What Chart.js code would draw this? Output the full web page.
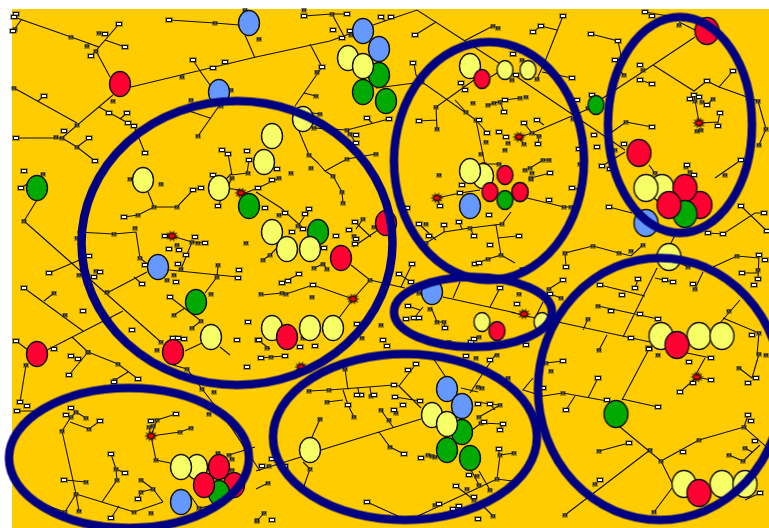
<!DOCTYPE html>
<html><head><meta charset="utf-8">
<script src="https://cdn.jsdelivr.net/npm/chart.js@4"></script>
<style>html,body{margin:0;padding:0;background:#fff;overflow:hidden}canvas{display:block}</style>
</head><body><canvas id="c" width="769" height="528"></canvas>
<script>
// Community rings
const ringX=[237,489,680,473,660,405,129];
const ringY=[243,161,125,312,389,437,458];
const ringRX=[155.5,95,72,79,122,132,120];
const ringRY=[142,119,108,35,131,83,70];
// Large nodes in drawing order (later on top)
const nodeX=[249,219,120,379,363,348,379,363,363,386,303,272,264,470,482,505,528,596,707,639,
 483,470,505,37,143,219,249,158,196,211,37,173,272,287,318,310,341,386,272,310,333,287,470,520,490,505,432,482,497,520,542,
 662,646,700,685,685,669,646,669,661,699,722,677,616,684,722,745,699,197,181,234,219,219,204,181,447,462,432,462,447,470,447,310];
const nodeY=[23,92,84,49,31,58,75,66,92,101,119,136,162,66,79,70,70,105,31,153,
 176,171,175,188,180,188,206,267,302,337,354,352,232,249,232,249,258,223,328,328,328,337,206,192,192,200,292,322,331,192,322,
 188,188,205,188,214,205,223,257,336,336,336,345,414,484,484,484,493,467,467,485,467,493,485,502,389,406,415,432,424,458,450,450];
const nodeKind=['b','b','r','b','b','y','g','y','g','g','y','y','y','y','r','y','y','g','r','r',
 'y','y','r','g','y','y','g','b','g','y','r','r','y','y','g','y','r','r','y','y','y','r','b','r','r','g','b','y','r','r','y',
 'y','y','r','r','g','r','b','y','y','y','y','r','g','y','y','y','r','y','y','r','r','g','r','b','b','b','y','g','y','g','g','y'];
const nodeSize=['m','m','m','m','m','m','m','m','m','m','m','m','m','m','s','s','s','s','l','l',
 'm','m','s','m','m','m','m','m','m','m','m','m','m','m','m','m','m','m','m','m','m','m','m','s','s','s','m','s','s','s','s',
 'l','l','l','l','l','l','l','l','l','l','l','l','l','l','l','l','l','m','m','m','m','m','m','m','m','m','m','m','m','m','m','m'];
// Red starred hubs
const hubX=[172,241,353,437,301,151,697,699,519,524];
const hubY=[236,193,299,198,367,436,377,123,137,314];
// Small light nodes
const lightX=[16,14,13,169,119,105,125,91,44,64,16,89,95,109,127,128,134,145,213,225,193,222,228,247,249,24,213,
 21,49,24,16,142,170,89,83,132,124,193,201,165,195,205,169,179,186,178,94,100,176,145,238,239,237,54,173,178,184,218,258,248,
 304,347,381,391,333,350,342,415,413,322,367,389,356,356,461,465,419,479,487,499,504,505,513,277,272,506,
 563,541,533,591,618,645,652,615,640,640,652,733,707,694,690,699,707,720,718,577,592,537,524,594,597,538,579,624,602,610,652,550,741,687,694,572,516,
 419,429,407,444,459,474,489,490,475,479,460,462,440,355,349,336,356,355,324,309,305,292,303,265,285,258,299,288,313,282,411,399,412,408,406,414,419,445,500,471,474,383,387,315,357,300,259,
 572,549,519,609,741,764,767,723,708,566,563,638,635,622,600,759,765,742,758,754,693,611,640,658,665,673,550,517,752,631,649,526,
 71,78,69,114,138,20,27,17,71,66,100,176,151,111,125,64,138,111,247,
 261,285,394,408,416,348,361,357,374,395,420,403,394,478,490,503,500,484,404,421,478,469,499,474,456,459,453,439,367,272,490,466,262,285,272,
 563,598,543,566,607,658,629,683,755,760,711,693,680,649,711,689,748,756,748,751,600];
const lightY=[14,17,31,20,24,34,47,56,96,131,138,138,161,113,113,123,126,153,68,62,60,150,154,151,160,171,175,
 188,273,288,341,284,297,256,311,330,217,190,188,236,237,243,249,250,255,264,277,272,282,265,278,270,340,349,338,338,339,206,340,322,
 16,14,17,17,30,31,38,35,63,67,118,119,135,143,83,90,121,120,133,132,112,100,54,169,180,137,
 16,26,32,34,41,12,16,60,65,80,84,71,81,95,99,97,105,113,126,100,95,120,123,135,147,144,149,144,166,169,127,173,160,165,175,78,75,
 224,236,208,225,222,236,215,245,264,263,193,185,206,222,230,236,239,244,248,209,214,232,229,208,213,188,274,281,285,283,282,274,264,306,319,318,318,328,288,342,339,340,346,346,324,347,340,
 188,200,236,207,206,213,231,234,233,267,280,279,288,295,285,255,260,273,279,285,284,311,314,319,280,282,294,304,335,338,348,345,
 356,359,375,382,379,402,406,411,408,415,421,414,421,454,473,480,499,518,367,
 358,356,385,370,364,405,395,395,395,397,401,405,410,404,404,424,430,422,454,458,519,475,449,497,486,506,509,504,502,520,360,356,466,466,459,
 361,378,388,410,400,407,443,452,441,493,380,383,392,349,358,362,383,378,415,421,480];
// Small dark nodes
const darkX=[15,71,99,87,96,215,182,14,113,77,56,62,77,191,221,198,231,245,259,248,43,130,232,
 24,138,154,177,114,135,140,77,79,96,107,54,65,109,174,167,177,192,198,218,217,211,201,174,192,181,246,88,157,161,161,
 304,332,351,317,316,320,314,347,350,309,311,347,376,333,291,279,493,498,436,466,473,437,488,494,500,486,481,484,499,505,508,439,422,512,476,
 522,513,537,520,526,624,643,679,713,702,695,701,697,626,532,539,524,758,766,759,655,725,543,549,530,525,532,531,573,588,615,580,686,690,
 342,343,363,374,354,263,270,314,323,327,370,261,282,286,312,381,362,426,426,470,502,501,488,430,437,444,419,449,479,267,303,298,279,
 531,564,571,565,593,619,631,643,737,758,695,688,588,598,599,729,549,561,519,759,522,
 26,88,118,115,187,202,214,209,76,71,86,89,62,157,149,153,180,191,156,116,117,86,76,141,153,141,65,79,134,151,199,218,229,232,232,257,
 271,476,497,508,345,309,329,371,327,354,381,389,396,390,320,310,268,264,257,493,478,482,500,479,481,428,432,435,477,490,479,497,500,514,467,474,435,458,269,
 551,546,563,599,650,661,699,744,745,743,729,595,565,654,658,739,759,766];
const darkY=[29,37,33,46,51,23,77,88,101,125,137,138,147,100,106,136,90,10,39,173,174,179,178,
 221,215,207,207,234,228,258,238,275,271,292,293,315,319,275,280,245,242,243,265,277,294,321,315,328,269,243,352,350,342,184,
 10,14,35,72,96,114,128,130,134,155,168,159,154,176,173,178,26,28,107,112,103,129,105,103,102,142,154,164,164,150,143,175,82,80,120,
 60,54,79,98,97,75,70,25,99,102,101,130,131,122,133,136,144,101,129,145,173,175,160,160,168,170,173,178,119,108,150,164,167,172,
 192,203,219,227,236,260,255,268,264,269,280,294,293,294,297,325,338,243,224,228,224,255,259,309,322,322,293,342,337,348,338,226,215,
 179,207,207,253,246,253,251,245,256,270,289,267,319,306,350,311,289,298,294,333,269,
 365,352,364,380,369,389,392,414,412,417,418,429,431,420,427,426,432,428,460,469,480,482,494,480,489,492,512,511,512,513,508,453,455,459,470,520,
 357,358,355,378,369,391,390,396,402,417,410,420,413,447,419,469,483,513,521,516,387,388,405,417,423,455,456,457,476,490,485,479,455,453,489,500,505,506,466,
 371,363,393,451,450,461,440,427,448,461,455,484,515,512,355,368,354,355];
// Connections: each list is x,y,x,y,... of one polyline
const links=[
 [13,31,22,19],[14,17,71,37,99,47,119,24],[105,40,125,47],[99,47,96,51,91,56],[96,51,110,77],
 [131,87,256,57,330,41,352,33],[200,71,193,60],[200,71,210,85],[113,95,62,138,16,138],[62,138,77,147,95,161],[77,147,89,138],
 [14,88,77,123],[38,101,44,96],[99,107,128,123,134,126,145,153],[120,119,127,113],[245,35,255,58],[169,20,215,23,239,25],
 [219,106,198,136],[180,108,210,118],[228,154,232,175,247,173,249,160],[222,150,228,154],[232,173,222,183],
 [24,221,162,343],[37,200,24,221],[77,232,114,234,136,232,140,258,152,268],[49,273,89,256],[147,272,107,293],[134,277,142,284],
 [24,288,83,331],[44,301,54,293],[47,350,123,311],[72,337,88,352],[170,297,201,321],[174,315,185,308],[192,328,201,321],
 [172,236,192,242,205,243],[192,242,181,269],[169,270,238,277],[217,277,218,265],[217,277,205,293],
 [124,217,138,215,154,207,177,207,193,190,201,188],[154,207,148,192],[202,343,185,351],[220,347,230,355],[21,188,30,182],
 [16,341,28,350],[258,340,270,349],[232,178,218,206],[245,193,258,188],[225,188,240,190],
 [304,16,332,14,347,14],[332,14,345,38],[373,25,417,10,499,63],[436,22,415,35],[381,17,385,21],
 [310,44,322,67,295,106],[304,93,316,96],[299,131,309,155,318,163],[325,171,347,159,376,154],[318,163,325,171,333,176],
 [314,128,347,130,389,119],[367,118,372,123],[347,130,356,143],[376,88,422,82,476,120],[414,63,416,75,422,82],
 [476,120,486,170],[476,120,487,133],[484,164,499,164],[474,80,436,107,437,129],[419,121,437,120],[461,83,465,90],[466,112,455,100],
 [488,105,505,100,520,98],[500,102,504,112],[500,71,489,78],[493,26,464,41],[320,114,305,112],
 [563,16,546,59,537,79],[541,26,557,30],[533,32,541,26],[542,72,572,78],[517,77,625,150],[591,34,618,41,622,60],[615,60,621,60],
 [695,37,653,65,603,98,586,110,532,133,519,137],[524,123,532,133,539,136,538,144],[537,120,544,125],[524,144,519,137],
 [653,65,694,91,707,81,719,87,733,71],[719,87,758,101,766,129,759,145],[694,95,699,122],[702,102,707,105,713,99],
 [699,123,718,122,720,113],[718,122,718,126],[626,122,652,127],[626,122,612,132],[679,22,695,30],[645,12,680,18],
 [602,166,625,152],[649,165,655,173],[741,160,715,178],[530,168,543,160,549,160],[531,178,550,173],[624,75,616,67],[640,80,652,84],
 [333,176,342,192,343,203],[279,178,258,188],[256,192,281,208,303,228],[298,226,309,209],[355,222,371,237],[363,219,356,229],[378,230,353,247],
 [351,265,370,280,353,299,339,318],[370,280,405,288],[262,295,282,293,286,294,313,285,353,299],[282,283,299,274],[314,268,323,264,327,269],
 [412,264,401,287],[399,274,411,282],[426,243,444,232,470,228,502,224,511,212],[419,224,436,240],[444,225,444,232],[459,222,462,229],[470,228,474,236],
 [496,225,501,255,488,259,475,264],[498,238,517,236],[501,255,515,263],[437,198,460,193,480,190],[437,198,440,206],[443,297,516,313],[460,282,453,298],[500,288,490,307],
 [423,307,414,318],[431,307,437,322,444,322,445,328],[408,306,420,310],[263,260,270,255,282,243],[449,342,446,349],
 [527,198,564,207,571,207],[609,207,632,213],[572,188,585,190],[675,235,670,245],[708,233,723,234,755,213,764,213],[741,206,767,231],
 [566,267,565,253,593,246,619,253,631,256,643,245],[680,263,688,267],[713,267,737,256,759,258],[703,272,695,289],[759,255,758,279],[742,273,758,273],
 [600,285,645,296],[635,288,638,279],[598,306,658,319],[657,268,623,337],[655,278,673,282],[558,322,650,342],[588,319,583,330],[599,350,607,335],
 [740,300,720,323],[723,318,759,333,757,355],[549,289,563,280],[550,294,561,298],[543,302,535,318],[510,312,535,318],
 [26,365,20,402],[17,411,33,411],[88,352,69,375],[88,352,118,364,138,379],[128,372,115,380],[173,365,187,369,202,389,227,421,260,471],
 [62,431,71,417,76,412],[70,422,89,429,100,421],[76,412,86,418],[62,431,76,494],[64,480,86,482],[76,494,65,512],[79,511,76,494,134,512,163,502],
 [119,506,111,518],[102,502,117,480,116,469,111,454],[116,469,125,473],[141,480,153,489,163,502],[153,489,141,492,138,499],[45,505,65,512],
 [151,436,149,427],[151,436,157,420,176,414],[151,436,180,432,191,428],[151,436,156,460,170,463],[199,508,190,495],[199,508,215,505],[229,455,255,447],[71,356,78,359],
 [309,391,329,390,394,385,399,386,416,364],[345,369,348,390],[343,390,348,405,354,417],[327,402,343,400],[358,388,359,395],[370,387,371,396],
 [399,386,421,408],[395,397,420,401],[321,450,421,419],[381,410,393,427],[379,432,390,447,404,454],[320,419,312,437],[301,457,256,471],
 [303,462,310,469,304,486],[367,502,400,517],[418,516,497,479,512,481],[497,479,500,455,499,449],[500,455,514,453],[469,466,479,485],[479,471,490,490],
 [456,486,474,500],[433,358,445,376],[461,388,478,392],[470,393,495,355],[475,402,500,405,479,417],[490,404,495,410],[472,430,481,423,503,424],[500,430,503,424],
 [268,483,256,489],[264,513,257,521],[493,516,484,507],[284,356,271,357,261,358],
 [546,363,563,361],[533,378,523,390,543,396,563,393,607,401],[575,396,566,410],[588,398,598,378],[622,400,649,349],[622,399,658,407],
 [620,427,661,461],[599,451,629,443],[565,515,650,450],[661,461,699,440,744,427,770,450],[744,427,748,415],[661,461,672,483],[654,512,672,488],
 [729,455,743,461,760,445],[745,448,752,452],[711,380,697,377,680,392],[687,353,711,358],[705,358,695,376],[759,354,752,378,739,368],[745,500,760,493]
];

const palette={y:'#F7FF66',r:'#FF0033',g:'#00AA00',b:'#6699FF'};
const dims={s:[16,19],m:[21,25],l:[24,27]};
const bg='#FFCC00', ringColor='#000080', lineColor='#12100a';

function makeCanvas(w,h,draw){const c=document.createElement('canvas');c.width=w;c.height=h;draw(c.getContext('2d'));return c;}
function ellipseSprite(w,h,fill,stroke,lw){
  return makeCanvas(Math.ceil(w+lw*2)+2,Math.ceil(h+lw*2)+2,g=>{
    g.beginPath();g.ellipse(g.canvas.width/2,g.canvas.height/2,w/2,h/2,0,0,Math.PI*2);
    if(fill){g.fillStyle=fill;g.fill();}
    g.lineWidth=lw;g.strokeStyle=stroke;g.stroke();
  });
}
const nodeSprites={};
for(const k in palette)for(const s in dims)nodeSprites[k+s]=ellipseSprite(dims[s][0],dims[s][1],palette[k],'#111',1.4);
const ringSprites=ringX.map((_,i)=>ellipseSprite(ringRX[i]*2,ringRY[i]*2,null,ringColor,8.5));
const hubSprite=makeCanvas(15,13,g=>{
  g.translate(7.5,6.5);g.fillStyle='#1a0a00';g.beginPath();
  for(let i=0;i<20;i++){const a=i*Math.PI/10,r=i%2?3.6:6.8;g.lineTo(Math.cos(a)*r,Math.sin(a)*r*.85);}
  g.closePath();g.fill();
  g.fillStyle='#FF0000';g.beginPath();g.ellipse(0,0,2.8,1.9,0,0,Math.PI*2);g.fill();
});
const lightSprite=makeCanvas(8,6,g=>{
  g.fillStyle='rgba(80,70,30,.45)';g.fillRect(0,0,8,6);
  g.fillStyle='#111';g.fillRect(1,1,6,4);
  g.fillStyle='#fff';g.fillRect(2,2,4,2);
});
const darkSprite=makeCanvas(6,5,g=>{
  g.fillStyle='rgba(80,70,30,.45)';g.fillRect(0,0,6,5);
  g.fillStyle='#222';g.fillRect(1,1,4,3);
  g.fillStyle='#777';g.fillRect(2,2,2,1);
});
const pts=(xs,ys)=>xs.map((x,i)=>({x,y:ys[i]}));
const linkPts=[];
links.forEach(l=>{for(let i=0;i<l.length;i+=2)linkPts.push({x:l[i],y:l[i+1]});linkPts.push({x:null,y:null});});
const base={showLine:false,clip:false,pointRadius:5,pointHoverRadius:5};
const paperPlugin={id:'paper',beforeDraw(ch){
  const {ctx,scales:{x,y}}=ch;ctx.save();ctx.fillStyle=bg;
  ctx.fillRect(x.getPixelForValue(12),y.getPixelForValue(9),x.getPixelForValue(769)-x.getPixelForValue(12),y.getPixelForValue(528)-y.getPixelForValue(9));
  ctx.restore();}};
new Chart(document.getElementById('c'),{
  type:'scatter',
  data:{datasets:[
    {...base,data:pts(ringX,ringY),pointStyle:c=>ringSprites[c.dataIndex]},
    {...base,data:pts(nodeX,nodeY),pointStyle:c=>nodeSprites[nodeKind[c.dataIndex]+nodeSize[c.dataIndex]]},
    {...base,data:pts(hubX,hubY),pointStyle:hubSprite},
    {...base,data:pts(lightX,lightY),pointStyle:lightSprite},
    {...base,data:pts(darkX,darkY),pointStyle:darkSprite},
    {showLine:true,clip:false,data:linkPts,borderColor:lineColor,borderWidth:1.1,pointRadius:0,spanGaps:false,tension:0}
  ]},
  options:{
    responsive:false,animation:false,events:[],
    layout:{autoPadding:false,padding:0},
    plugins:{legend:{display:false},tooltip:{enabled:false},title:{display:false}},
    scales:{
      x:{type:'linear',display:false,min:0,max:769},
      y:{type:'linear',display:false,min:0,max:528,reverse:true}
    }
  },
  plugins:[paperPlugin]
});
</script></body></html>
